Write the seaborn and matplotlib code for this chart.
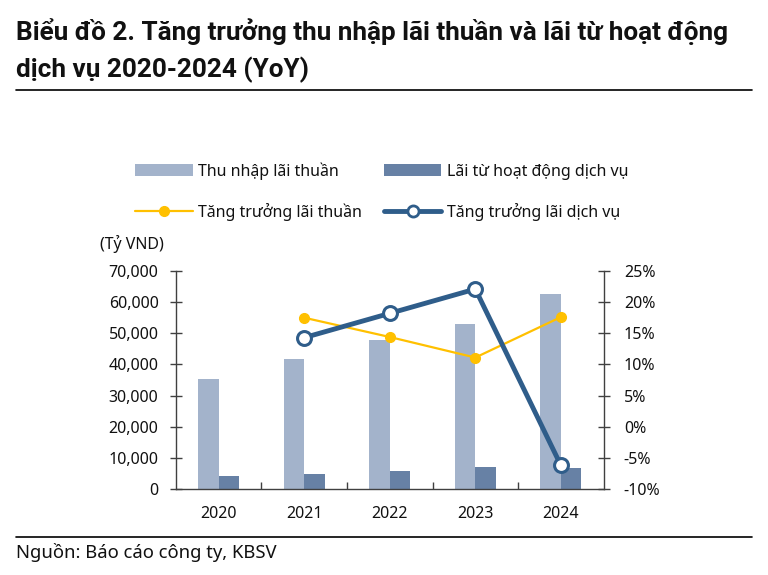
import numpy as np
import pandas as pd
import matplotlib
matplotlib.use('Agg')
import matplotlib.pyplot as plt
import seaborn as sns
from matplotlib.lines import Line2D
from matplotlib.patches import Patch
from matplotlib.ticker import FuncFormatter, FixedLocator


# Data (Tỷ VND and YoY %)
years = ['2020', '2021', '2022', '2023', '2024']
thu_nhap_lai_thuan = [35400, 41800, 47800, 53000, 62500]
lai_dich_vu = [4100, 4800, 5700, 7000, 6600]
tang_truong_lai_thuan = [np.nan, 17.5, 14.4, 11.1, 17.6]
tang_truong_dich_vu = [np.nan, 14.3, 18.2, 22.1, -6.2]

bar_names = ['Thu nhập lãi thuần', 'Lãi từ hoạt động dịch vụ']
line_names = ['Tăng trưởng lãi thuần', 'Tăng trưởng lãi dịch vụ']

c_light = '#A3B3CB'
c_dark = '#6781A5'
c_blue = '#2F5D8A'
c_yellow = '#FFC000'
txt = '#111111'
fs = 11.5

sns.set_theme(style='white')
plt.rcParams['font.family'] = ['Noto Sans', 'DejaVu Sans']

df = pd.DataFrame({
    'year': years * 2,
    'value': thu_nhap_lai_thuan + lai_dich_vu,
    'series': [bar_names[0]] * len(years) + [bar_names[1]] * len(years),
})

fig = plt.figure(figsize=(7.68, 5.75), dpi=100)
ax = fig.add_axes([0.229, 0.1496, 0.557, 0.3791])

sns.barplot(
    data=df,
    x='year',
    y='value',
    hue='series',
    palette=[c_light, c_dark],
    width=0.48,
    gap=0,
    saturation=1,
    linewidth=0,
    edgecolor='none',
    legend=False,
    ax=ax
)

ax.set_xlim(-0.5, len(years) - 0.5)
ax.set_ylim(0, 70000)
ax.set_yticks(np.arange(0, 70001, 10000))
ax.yaxis.set_major_formatter(FuncFormatter(lambda v, p: f'{v:,.0f}'))
ax.set_xlabel('')
ax.set_ylabel('')

# Right axis: growth
ax2 = ax.twinx()
x_pos = np.arange(len(years))
ax2.plot(x_pos, tang_truong_lai_thuan, color=c_yellow, lw=1.6,
         marker='o', ms=7, mfc=c_yellow, mec=c_yellow, zorder=3)
ax2.plot(x_pos, tang_truong_dich_vu, color=c_blue, lw=3.5,
         marker='o', ms=10, mfc='white', mec=c_blue, mew=2.2, zorder=4)
ax2.set_ylim(-10, 25)
ax2.set_yticks(np.arange(-10, 26, 5))
ax2.yaxis.set_major_formatter(FuncFormatter(lambda v, p: f'{v:.0f}%'))

spine_col = '#404040'
for a in (ax, ax2):
    for s in a.spines.values():
        s.set_color(spine_col)
        s.set_linewidth(1.0)
    a.spines['top'].set_visible(False)
    a.grid(False)

ax.spines['right'].set_visible(False)
ax2.spines['left'].set_visible(False)
ax2.spines['bottom'].set_visible(False)

ax.tick_params(axis='y', direction='inout', length=9, width=1, color=spine_col,
               pad=8, labelsize=fs, labelcolor=txt, left=True)
ax2.tick_params(axis='y', direction='inout', length=9, width=1, color=spine_col,
                pad=10, labelsize=fs, labelcolor=txt, right=True)

ax.tick_params(axis='x', which='major', length=0, pad=12, labelsize=fs,
               labelcolor=txt)
ax.xaxis.set_minor_locator(FixedLocator(np.arange(0.5, len(years) - 1, 1)))
ax.tick_params(axis='x', which='minor', direction='in', length=5, width=1,
               color=spine_col, bottom=True)

fig.text(100 / 768, 1 - 244 / 575, '(Tỷ VND)', fontsize=fs,
         color=txt, va='center', ha='left')

# Legend
handles = [
    Patch(facecolor=c_light, edgecolor='none'),
    Line2D([], [], color=c_yellow, lw=1.6, marker='o', ms=7,
           mfc=c_yellow, mec=c_yellow),
    Patch(facecolor=c_dark, edgecolor='none'),
    Line2D([], [], color=c_blue, lw=3.5, marker='o', ms=8,
           mfc='white', mec=c_blue, mew=2),
]
labels = [bar_names[0], line_names[0], bar_names[1], line_names[1]]
fig.legend(
    handles,
    labels,
    ncol=2,
    loc='upper left',
    bbox_to_anchor=(121 / 768, 1 - 148 / 575),
    frameon=False,
    fontsize=fs,
    handlelength=3.6,
    handleheight=0.75,
    handletextpad=0.35,
    columnspacing=1.35,
    labelspacing=1.42,
    labelcolor=txt
)

# Title, rules and source
title_font = dict(fontsize=18.8, fontweight='bold',
                  family=['Roboto', 'DejaVu Sans'], color=txt,
                  va='center', ha='left')
fig.text(16 / 768, 1 - 32 / 575,
         'Biểu đồ 2. Tăng trưởng thu nhập lãi thuần và lãi từ hoạt động',
         **title_font)
fig.text(16 / 768, 1 - 70 / 575, 'dịch vụ 2020-2024 (YoY)', **title_font)

fig.add_artist(Line2D([16 / 768, 752 / 768], [1 - 90 / 575, 1 - 90 / 575],
                      color='black', lw=1.2))
fig.add_artist(Line2D([16 / 768, 752 / 768], [1 - 537 / 575, 1 - 537 / 575],
                      color='black', lw=1.2))

fig.text(16 / 768, 1 - 553 / 575, 'Nguồn: Báo cáo công ty, KBSV',
         fontsize=13.3, color=txt, va='center', ha='left')

fig.savefig('out.png', dpi=100)
